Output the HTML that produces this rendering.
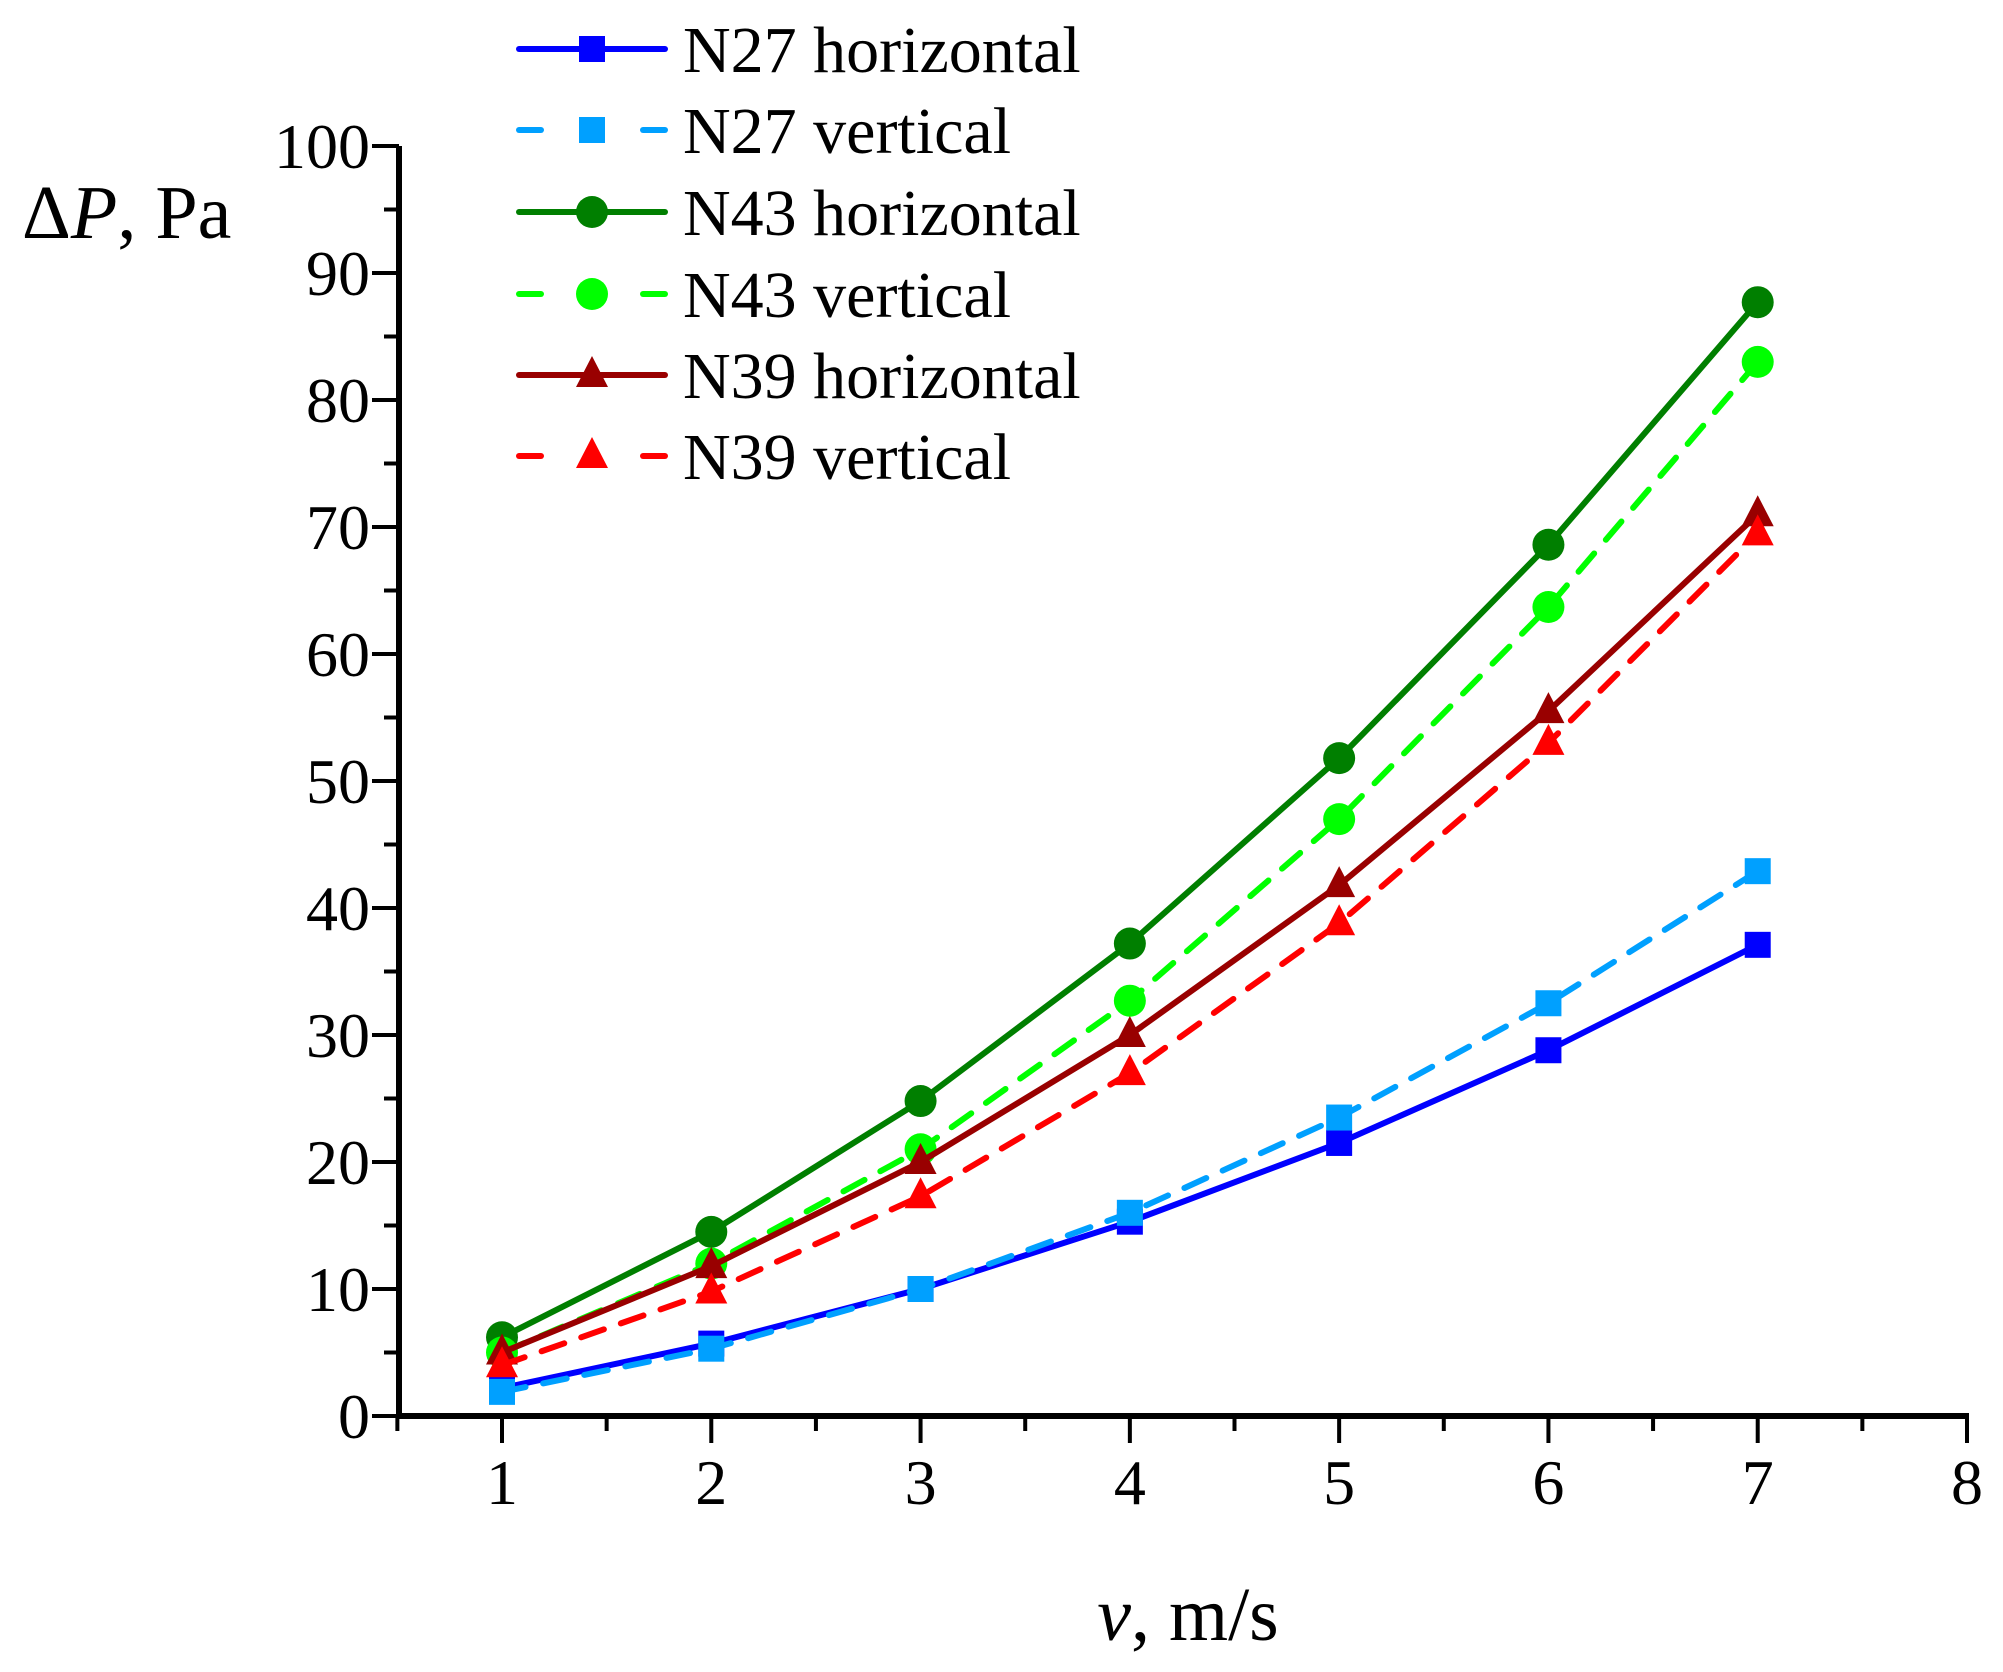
<!DOCTYPE html>
<html><head><meta charset="utf-8"><style>
html,body{margin:0;padding:0;background:#fff;}
svg{display:block;font-family:"Liberation Serif",serif;}
</style></head><body>
<svg id="chart" width="2003" height="1672" viewBox="0 0 2003 1672" xmlns="http://www.w3.org/2000/svg">
<g id="axes"></g>
<g id="series"></g>
<g id="legend"></g>
<text x="22" y="238" font-size="76">Δ<tspan font-style="italic">P</tspan>, Pa</text>
<text x="1188" y="1640" font-size="76" text-anchor="middle"><tspan font-style="italic">v</tspan>, m/s</text>
</svg>
<script>
const xValues = [1,2,3,4,5,6,7];
const n27h = [2.2,5.7,10,15.3,21.5,28.8,37.1];
const n27v = [1.9,5.3,10,16,23.5,32.5,42.9];
const n43h = [6.2,14.5,24.8,37.2,51.8,68.6,87.7];
const n43v = [5,12,21,32.7,47,63.7,83];
const n39h = [5,11.8,20,30,41.8,55.5,71];
const n39v = [4,9.8,17.3,27,38.8,53,69.5];
const xTicks = [1,2,3,4,5,6,7,8];
const yTicks = [0,10,20,30,40,50,60,70,80,90,100];
const seriesNames = ["N27 horizontal","N27 vertical","N43 horizontal","N43 vertical","N39 horizontal","N39 vertical"];

const NS="http://www.w3.org/2000/svg";
const X0=399, X1px=502, X8px=1967, Y0=1416, Y100=146;
const xs=v=>X1px+(v-1)*(X8px-X1px)/7;
const ys=v=>Y0-(v)*(Y0-Y100)/100;
function mk(tag,attrs,parent){const e=document.createElementNS(NS,tag);for(const k in attrs)e.setAttribute(k,attrs[k]);parent.appendChild(e);return e;}
const axes=document.getElementById('axes');
let e;
e=mk('line',{x1:X0,y1:Y0,x2:X8px+2,y2:Y0,stroke:'#000','stroke-width':6},axes);


e=mk('line',{x1:X0,y1:Y0+3,x2:X0,y2:Y100,stroke:'#000','stroke-width':6},axes);


for(let v=0.5;v<=8.01;v+=0.5){
  const major=Math.abs(v-Math.round(v))<1e-6;
  e=mk('line',{x1:xs(v),y1:Y0,x2:xs(v),y2:Y0+(major?27:15),stroke:'#000','stroke-width':4},axes);
  
  
}
xTicks.forEach(v=>{
  e=mk('text',{x:xs(v),y:Y0+88,'font-size':64,'text-anchor':'middle'},axes);e.textContent=v;
  
  
});
for(let v=0;v<=100;v+=5){
  const major=v%10===0;
  e=mk('line',{x1:X0,y1:ys(v),x2:X0-(major?27:15),y2:ys(v),stroke:'#000','stroke-width':4},axes);
  
  
}
yTicks.forEach(v=>{
  e=mk('text',{x:370,y:ys(v)+22,'font-size':64,'text-anchor':'end'},axes);e.textContent=v;
  
  
});
const defs=[
 {d:n27h,c:'#0000ff',dash:null,m:'sq'},
 {d:n27v,c:'#00a0ff',dash:'24 18',m:'sq'},
 {d:n43h,c:'#007f00',dash:null,m:'ci'},
 {d:n43v,c:'#00ff00',dash:'24 18',m:'ci'},
 {d:n39h,c:'#990000',dash:null,m:'tr'},
 {d:n39v,c:'#ff0000',dash:'24 18',m:'tr'}];
function marker(type,x,y,c,parent){
  let m;
  if(type==='sq') m=mk('rect',{x:x-13,y:y-13,width:26,height:26,fill:c},parent);
  else if(type==='ci') m=mk('circle',{cx:x,cy:y,r:16,fill:c},parent);
  else m=mk('polygon',{points:`${x},${y-19} ${x+16},${y+12} ${x-16},${y+12}`,fill:c},parent);
  return m;
}
const sg=document.getElementById('series');
defs.forEach((s,i)=>{
  const g=mk('g',{},sg);
  
  
  const pts=xValues.map((x,j)=>xs(x)+','+ys(s.d[j])).join(' ');
  const a={points:pts,fill:'none',stroke:s.c,'stroke-width':6,'stroke-linecap':'round','stroke-linejoin':'round'};
  if(s.dash)a['stroke-dasharray']=s.dash;
  const pl=mk('polyline',a,g);
  
  
  xValues.forEach((x,j)=>{
    const m=marker(s.m,xs(x),ys(s.d[j]),s.c,g);
    
    
  });
});
const lg=document.getElementById('legend');
const rowY=[49,130,212,294,375,456];
defs.forEach((s,i)=>{
  const g=mk('g',{},lg);
  
  
  const y=rowY[i];
  if(s.dash){
    mk('line',{x1:519,y1:y,x2:541,y2:y,stroke:s.c,'stroke-width':6,'stroke-linecap':'round'},g);
    mk('line',{x1:643,y1:y,x2:665,y2:y,stroke:s.c,'stroke-width':6,'stroke-linecap':'round'},g);
  } else {
    mk('line',{x1:519,y1:y,x2:665,y2:y,stroke:s.c,'stroke-width':6,'stroke-linecap':'round'},g);
  }
  marker(s.m,592,y,s.c,g);
  const t=mk('text',{x:683,y:y+23,'font-size':66},g);t.textContent=seriesNames[i];
});
</script>
</body></html>
